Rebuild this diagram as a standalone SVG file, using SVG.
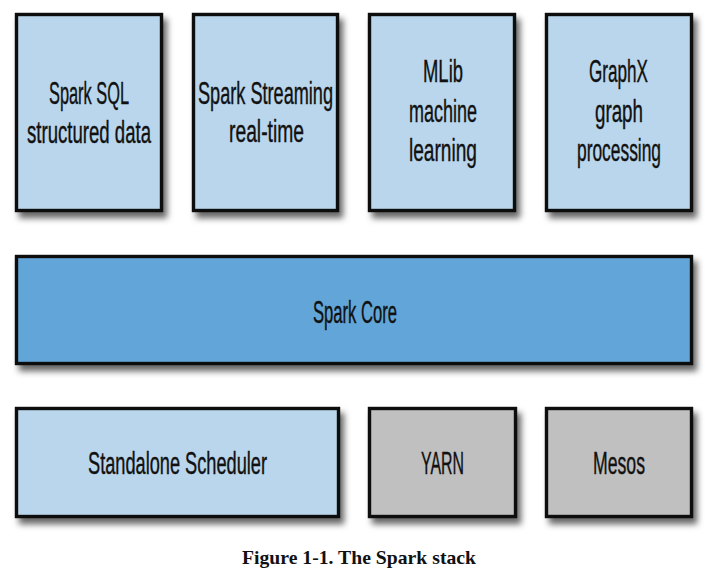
<svg xmlns="http://www.w3.org/2000/svg" width="709" height="580" viewBox="0 0 709 580">
<defs>
<filter id="sh" x="-10%" y="-10%" width="125%" height="130%">
<feDropShadow dx="4" dy="6" stdDeviation="3" flood-color="#000" flood-opacity="0.6"/>
</filter>
</defs>
<style>
.box{stroke:#111;stroke-width:3.4;filter:url(#sh)}
.lb{fill:#b9d6ec}
.core{fill:#62a6d9}
.gray{fill:#c0c0c0}
.t{font-family:"Liberation Sans","DejaVu Sans",sans-serif;font-size:31px;fill:#111;stroke:#111;stroke-width:0.4;text-anchor:middle}
.cap{font-family:"Liberation Serif","Times New Roman",serif;font-weight:bold;font-size:19px;fill:#111;text-anchor:middle}
</style>
<rect width="709" height="580" fill="#fff"/>
<g id="spark-sql">
<rect class="box lb" x="16.5" y="14.5" width="145" height="196"/>
<text class="t" x="89" y="104" textLength="80" lengthAdjust="spacingAndGlyphs">Spark SQL</text>
<text class="t" x="89" y="143" textLength="124" lengthAdjust="spacingAndGlyphs">structured data</text>
</g>
<g id="spark-streaming">
<rect class="box lb" x="193.5" y="14.5" width="144" height="196"/>
<text class="t" x="265.5" y="104" textLength="135" lengthAdjust="spacingAndGlyphs">Spark Streaming</text>
<text class="t" x="266.5" y="142" textLength="75" lengthAdjust="spacingAndGlyphs">real-time</text>
</g>
<g id="mllib">
<rect class="box lb" x="369.5" y="14.5" width="145" height="196"/>
<text class="t" x="443" y="82" textLength="40" lengthAdjust="spacingAndGlyphs">MLib</text>
<text class="t" x="443" y="122" textLength="68" lengthAdjust="spacingAndGlyphs">machine</text>
<text class="t" x="443" y="161" textLength="68" lengthAdjust="spacingAndGlyphs">learning</text>
</g>
<g id="graphx">
<rect class="box lb" x="546.5" y="14.5" width="145" height="196"/>
<text class="t" x="618.5" y="82" textLength="59" lengthAdjust="spacingAndGlyphs">GraphX</text>
<text class="t" x="619" y="122" textLength="48" lengthAdjust="spacingAndGlyphs">graph</text>
<text class="t" x="619" y="161" textLength="84" lengthAdjust="spacingAndGlyphs">processing</text>
</g>
<g id="spark-core">
<rect class="box core" x="16.5" y="256.5" width="675" height="107"/>
<text class="t" x="355" y="323" textLength="84" lengthAdjust="spacingAndGlyphs">Spark Core</text>
</g>
<g id="standalone">
<rect class="box lb" x="16.5" y="408.5" width="322" height="108"/>
<text class="t" x="177.5" y="474" textLength="179" lengthAdjust="spacingAndGlyphs">Standalone Scheduler</text>
</g>
<g id="yarn">
<rect class="box gray" x="369.5" y="408.5" width="146" height="108"/>
<text class="t" x="442.5" y="474" textLength="43" lengthAdjust="spacingAndGlyphs">YARN</text>
</g>
<g id="mesos">
<rect class="box gray" x="546.5" y="408.5" width="145" height="108"/>
<text class="t" x="619" y="474" textLength="52" lengthAdjust="spacingAndGlyphs">Mesos</text>
</g>
<g id="connectors"></g>
<text class="cap" x="359" y="564" textLength="234" lengthAdjust="spacingAndGlyphs">Figure 1-1. The Spark stack</text>
</svg>
